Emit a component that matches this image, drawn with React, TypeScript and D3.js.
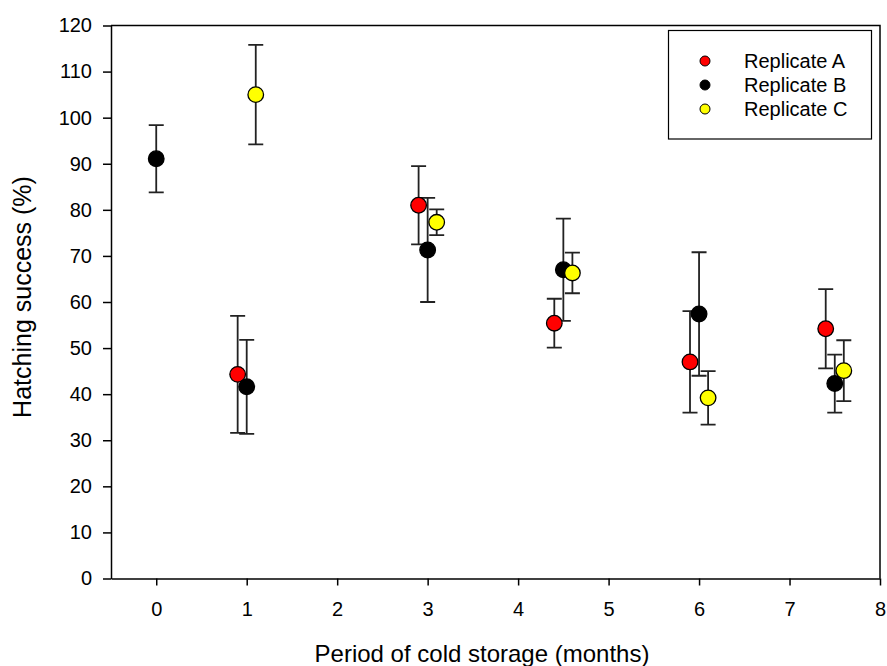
import { useEffect, useRef } from 'react'
import * as d3 from 'd3'

// Replicate A (red)
const monthsA = [0.9, 2.9, 4.4, 5.9, 7.4]
const meanA = [44.3, 81.0, 55.4, 47.0, 54.2]
const errA = [12.7, 8.5, 5.3, 11.0, 8.6]

// Replicate B (black)
const monthsB = [0, 1.0, 3.0, 4.5, 6.0, 7.5]
const meanB = [91.1, 41.6, 71.3, 67.0, 57.4, 42.3]
const errB = [7.3, 10.2, 11.3, 11.1, 13.4, 6.3]

// Replicate C (yellow)
const monthsC = [1.1, 3.1, 4.6, 6.1, 7.6]
const meanC = [105.0, 77.3, 66.3, 39.2, 45.1]
const errC = [10.8, 2.8, 4.4, 5.8, 6.6]

const seriesNames = ['Replicate A', 'Replicate B', 'Replicate C']
const seriesColors = ['#ff0000', '#000000', '#ffff00']
const xTicks = [0, 1, 2, 3, 4, 5, 6, 7, 8]
const yTicks = [0, 10, 20, 30, 40, 50, 60, 70, 80, 90, 100, 110, 120]

const W = 887
const H = 666
const FONT = '"Liberation Sans", Arial, sans-serif'

export default function App() {
  const svgRef = useRef<SVGSVGElement | null>(null)

  useEffect(() => {
    if (!svgRef.current) return
    const svg = d3.select(svgRef.current)
    svg.selectAll('*').remove()

    const left = 111, right = 880, top = 25.5, bottom = 578.5

    const x = d3.scaleLinear().domain([-0.5, 8]).range([left, right])
    const y = d3.scaleLinear().domain([0, 120]).range([bottom, top])

    const series = [
      { xs: monthsA, ms: meanA, es: errA },
      { xs: monthsB, ms: meanB, es: errB },
      { xs: monthsC, ms: meanC, es: errC },
    ].map((s, i) => ({
      name: seriesNames[i],
      color: seriesColors[i],
      pts: s.xs.map((m, j) => ({ m, v: s.ms[j], e: s.es[j] })),
    }))

    // Frame (top + right)
    svg.append('path')
      .attr('d', `M${left},${top}H${right}V${bottom}`)
      .attr('fill', 'none')
      .attr('stroke', '#000')
      .attr('stroke-width', 1.5)

    // Y axis
    const gy = svg.append('g')
      .attr('transform', `translate(${left},0)`)
      .call(d3.axisLeft(y).tickValues(yTicks).tickSize(8).tickSizeOuter(0).tickPadding(11))
    gy.selectAll('line').attr('stroke', '#000').attr('stroke-width', 1.5)
    gy.select('.domain').attr('stroke', '#000').attr('stroke-width', 1.5)
    gy.selectAll('text').attr('font-size', 20).attr('font-family', FONT).attr('fill', '#000')

    // X axis
    const gx = svg.append('g')
      .attr('transform', `translate(0,${bottom})`)
      .call(d3.axisBottom(x).tickValues(xTicks).tickSize(7).tickSizeOuter(0).tickPadding(16))
    gx.selectAll('line').attr('stroke', '#000').attr('stroke-width', 1.5)
    gx.select('.domain').attr('stroke', '#000').attr('stroke-width', 1.5)
    gx.selectAll('text').attr('font-size', 20).attr('font-family', FONT).attr('fill', '#000')

    // Error bars (all behind markers)
    const cap = 7.5
    series.forEach(s => {
      s.pts.forEach(p => {
        const cx = x(p.m)
        const y1 = y(p.v + p.e)
        const y2 = y(p.v - p.e)
        svg.append('path')
          .attr('d', `M${cx},${y1}V${y2}M${cx - cap},${y1}H${cx + cap}M${cx - cap},${y2}H${cx + cap}`)
          .attr('fill', 'none')
          .attr('stroke', '#222')
          .attr('stroke-width', 1.8)
      })
    })

    // Markers
    series.forEach(s => {
      svg.append('g').selectAll('circle')
        .data(s.pts)
        .join('circle')
        .attr('cx', d => x(d.m))
        .attr('cy', d => y(d.v))
        .attr('r', 7.8)
        .attr('fill', s.color)
        .attr('stroke', '#000')
        .attr('stroke-width', 1.3)
    })

    // Legend
    svg.append('rect')
      .attr('x', 668.5).attr('y', 30.5)
      .attr('width', 203).attr('height', 108.5)
      .attr('fill', '#fff')
      .attr('stroke', '#000')
      .attr('stroke-width', 1.2)
    series.forEach((s, i) => {
      const ry = 61 + i * 24
      svg.append('circle')
        .attr('cx', 705).attr('cy', ry)
        .attr('r', 5)
        .attr('fill', s.color)
        .attr('stroke', '#000')
        .attr('stroke-width', 1)
      svg.append('text')
        .attr('x', 744).attr('y', ry + 7)
        .attr('font-size', 20)
        .attr('font-family', FONT)
        .text(s.name)
    })

    // Axis titles
    svg.append('text')
      .attr('x', 482)
      .attr('y', 662)
      .attr('text-anchor', 'middle')
      .attr('font-size', 24)
      .attr('font-family', FONT)
      .text('Period of cold storage (months)')

    svg.append('text')
      .attr('transform', `translate(31,297) rotate(-90)`)
      .attr('text-anchor', 'middle')
      .attr('font-size', 25)
      .attr('font-family', FONT)
      .text('Hatching success (%)')
  }, [])

  return (
    <svg
      ref={svgRef}
      width={W}
      height={H}
      style={{ position: 'absolute', left: 0, top: 0, background: '#fff', display: 'block' }}
    />
  )
}
